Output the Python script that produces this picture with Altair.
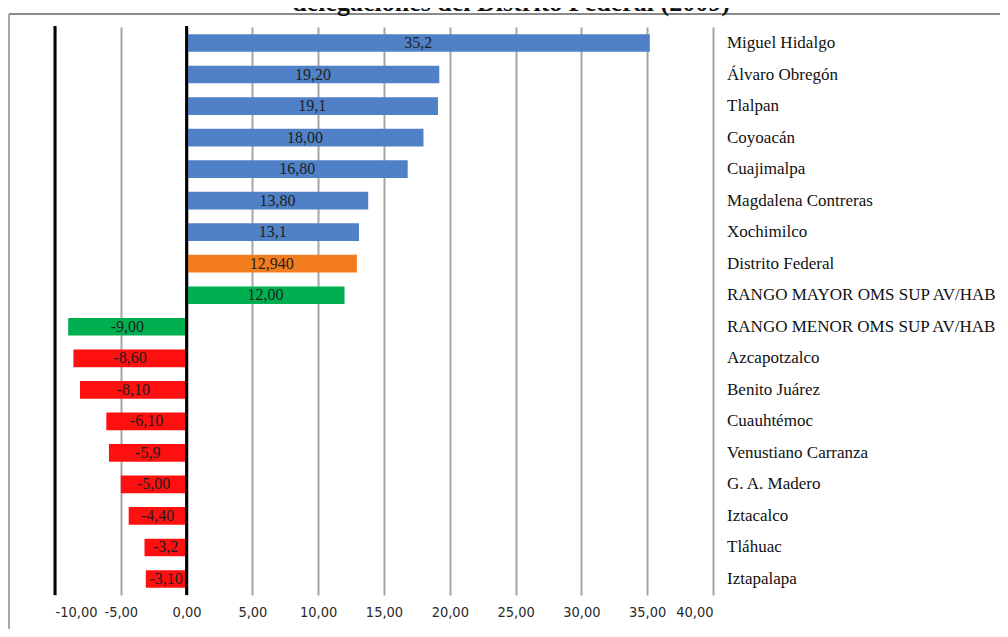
import altair as alt
import pandas as pd

categories = ["Miguel Hidalgo", "Álvaro Obregón", "Tlalpan", "Coyoacán", "Cuajimalpa",
              "Magdalena Contreras", "Xochimilco", "Distrito Federal",
              "RANGO MAYOR OMS SUP AV/HAB", "RANGO MENOR OMS SUP AV/HAB",
              "Azcapotzalco", "Benito Juárez", "Cuauhtémoc", "Venustiano Carranza",
              "G. A. Madero", "Iztacalco", "Tláhuac", "Iztapalapa"]
values = [35.2, 19.2, 19.1, 18.0, 16.8, 13.8, 13.1, 12.94, 12.0,
          -9.0, -8.6, -8.1, -6.1, -5.9, -5.0, -4.4, -3.2, -3.1]
value_labels = ["35,2", "19,20", "19,1", "18,00", "16,80", "13,80", "13,1", "12,940", "12,00",
                "-9,00", "-8,60", "-8,10", "-6,10", "-5,9", "-5,00", "-4,40", "-3,2", "-3,10"]
groups = ["sup"] * 7 + ["df", "oms", "oms"] + ["inf"] * 8
group_domain = ["sup", "df", "oms", "inf"]
group_colors = ["#5081C6", "#F37C1E", "#00B050", "#FF1010"]
tick_values = [-10, -5, 0, 5, 10, 15, 20, 25, 30, 35, 40]
title_text = "delegaciones del Distrito Federal (2009)"

df = pd.DataFrame({"cat": categories, "value": values, "label": value_labels, "group": groups})
df["mid"] = df["value"] / 2

xscale = alt.Scale(domain=[-10, 40], nice=False, zero=False)
yscale = alt.Scale(domain=categories, paddingInner=0.44, paddingOuter=0.227)

base = alt.Chart(df)

bars = base.mark_bar().encode(
    x=alt.X("value:Q", scale=xscale,
            axis=alt.Axis(values=tick_values, title=None, domain=False, ticks=False,
                          grid=True, gridColor="#A6A6A6", gridWidth=2,
                          labelExpr="replace(replace(format(datum.value, '.2f'), '.', ','), '\u2212', '-')",
                          labelFont="Liberation Sans Narrow, DejaVu Sans Condensed, Liberation Sans",
                          labelFontSize=14.5, labelColor="#2A2A2A", labelPadding=10)),
    x2=alt.datum(0),
    y=alt.Y("cat:N", scale=yscale, sort=categories, axis=None),
    color=alt.Color("group:N", scale=alt.Scale(domain=group_domain, range=group_colors), legend=None),
)

vals = base.mark_text(font="Liberation Serif", fontSize=16, color="#1E1E1E", baseline="middle").encode(
    x=alt.X("mid:Q", scale=xscale),
    y=alt.Y("cat:N", scale=yscale, sort=categories),
    text="label:N",
)

names = base.mark_text(font="Liberation Serif", fontSize=17, color="#111111",
                       align="left", baseline="middle").encode(
    x=alt.value(672),
    y=alt.Y("cat:N", scale=yscale, sort=categories),
    text="cat:N",
)

black_lines = alt.Chart(pd.DataFrame({"x": [-10, 0]})).mark_rule(color="#000000", strokeWidth=3).encode(
    x=alt.X("x:Q", scale=xscale),
    y=alt.value(-1), y2=alt.value(568),
)

frame_left = alt.Chart(pd.DataFrame({"a": [0]})).mark_rule(color="#8A8A8A", strokeWidth=1.5).encode(
    x=alt.value(-46), y=alt.value(-13), y2=alt.value(700),
)
frame_top = alt.Chart(pd.DataFrame({"a": [0]})).mark_rule(color="#8A8A8A", strokeWidth=2).encode(
    x=alt.value(-46), x2=alt.value(945), y=alt.value(-13),
)

title = alt.Chart(pd.DataFrame({"t": [title_text]})).mark_text(
    font="Liberation Serif", fontSize=26, fontWeight="bold", color="#111111",
    align="center", baseline="alphabetic").encode(
    x=alt.value(456), y=alt.value(-16), text="t:N",
)

chart = alt.layer(bars, black_lines, vals, names, frame_left, frame_top, title).properties(
    width=658, height=568,
    autosize=alt.AutoSizeParams(type="none"),
    padding={"left": 47, "top": 19, "right": 287, "bottom": 34},
    background="white",
).configure_view(stroke=None)

chart.save("out.html", embed_options={"renderer": "svg", "actions": False})
